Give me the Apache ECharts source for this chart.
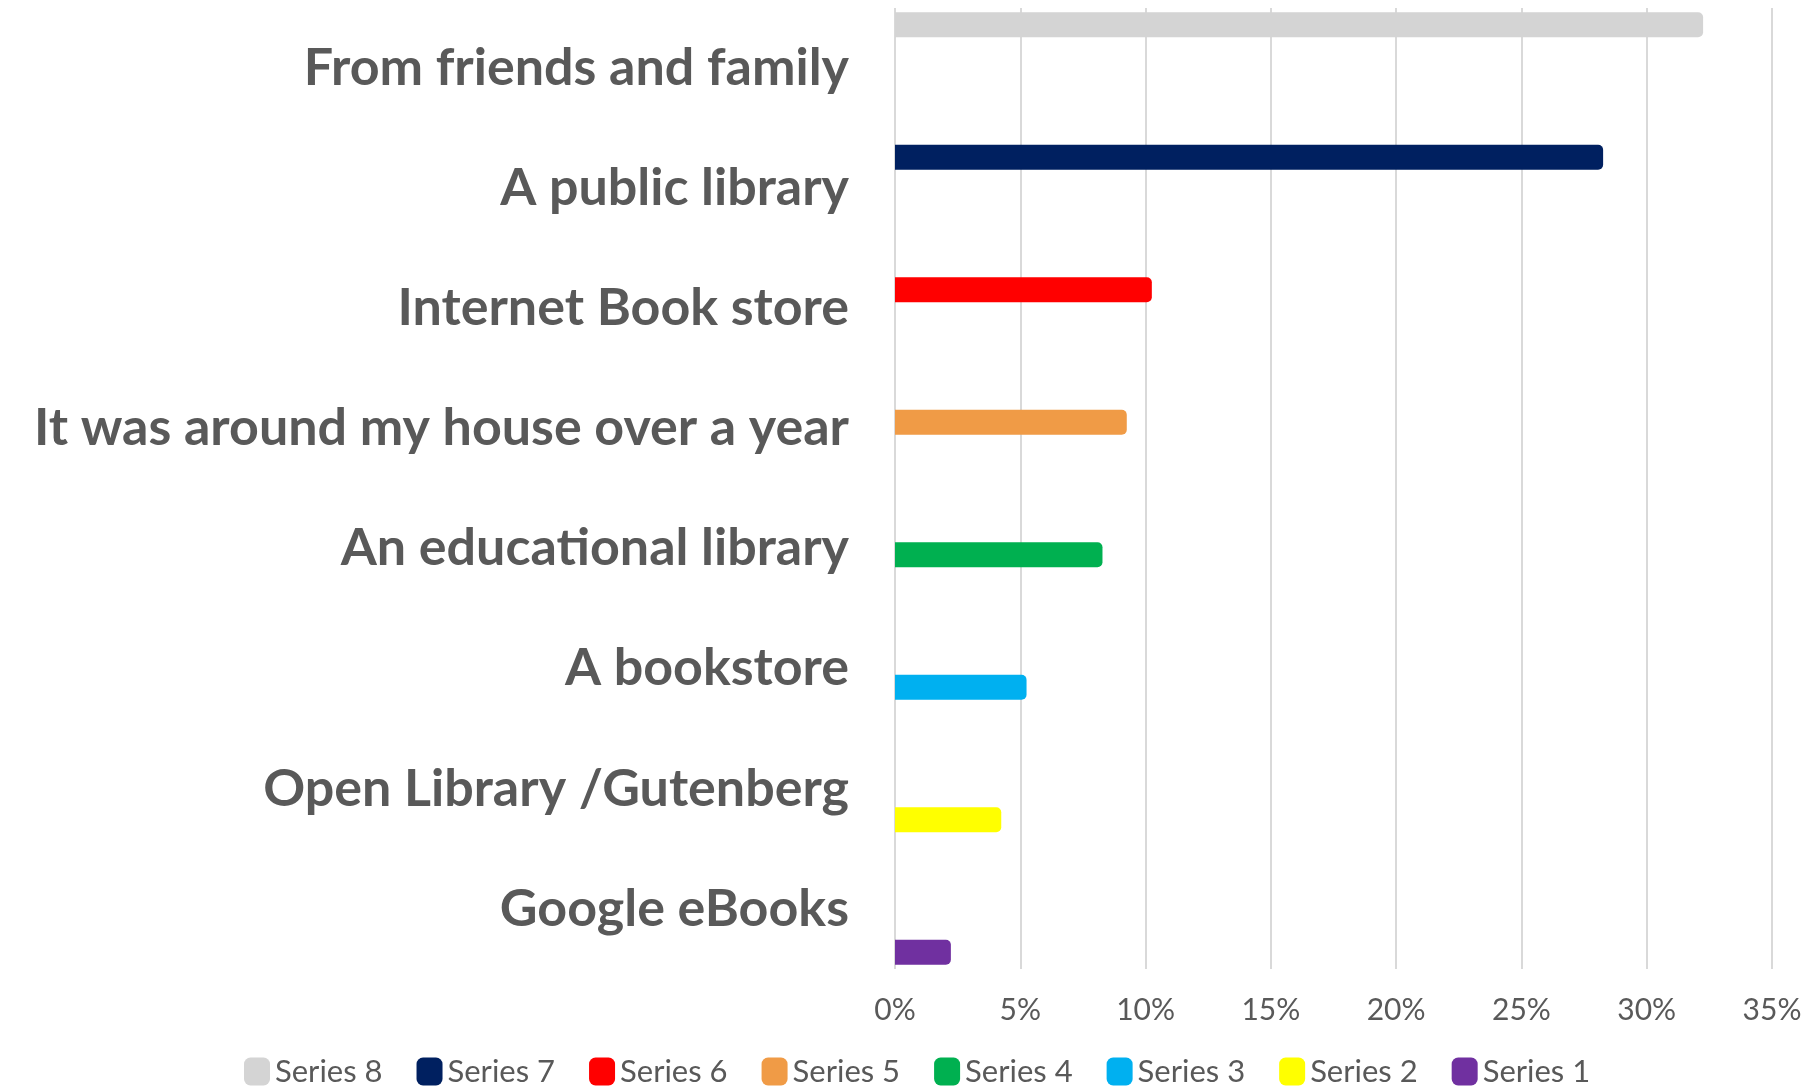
<!DOCTYPE html>
<html>
<head>
<meta charset="utf-8">
<title>Where did you get the book?</title>
<script src="https://cdn.jsdelivr.net/npm/echarts@6/dist/echarts.min.js"></script>
<style>
  html, body { margin: 0; padding: 0; background: #ffffff; }
  #chart { width: 1809px; height: 1089px; }
</style>
</head>
<body>
<div id="chart"></div>
<script>
// Categories listed bottom to top, as the category axis draws them
const categories = [
  'Google eBooks',
  'Open Library /Gutenberg',
  'A bookstore',
  'An educational library',
  'It was around my house over a year',
  'Internet Book store',
  'A public library',
  'From friends and family'
];
// Share of answers (%) for each category, same order
const values = [2.23, 4.24, 5.25, 8.28, 9.25, 10.25, 28.26, 32.25];
// One series per category, same order
const seriesNames = ['Series 1', 'Series 2', 'Series 3', 'Series 4', 'Series 5', 'Series 6', 'Series 7', 'Series 8'];
const seriesColors = ['#7030a0', '#ffff00', '#00b0f0', '#00b050', '#f09b46', '#ff0000', '#002060', '#d4d4d4'];
// Value axis ticks
const xTicks = { min: 0, max: 35, interval: 5 };

const textGray = '#595959';

// Series 8 first so it sits at the top of each band and leads the legend
const order = seriesNames.map((_, i) => i).reverse();

const series = order.map(i => ({
  name: seriesNames[i],
  type: 'bar',
  barWidth: 25,
  barGap: '-50.5%',
  itemStyle: { color: seriesColors[i], borderRadius: [0, 5, 5, 0] },
  data: categories.map((_, j) => (j === i ? values[j] : '-')),
  emphasis: { disabled: true }
}));

const chart = echarts.init(document.getElementById('chart'), null, { renderer: 'canvas' });
chart.setOption({
  animation: false,
  backgroundColor: '#ffffff',
  grid: { left: 895, right: 37, top: 8, bottom: 120, containLabel: false },
  xAxis: {
    type: 'value',
    min: xTicks.min,
    max: xTicks.max,
    interval: xTicks.interval,
    axisLine: { show: false },
    axisTick: { show: false },
    splitLine: { show: true, lineStyle: { color: '#d9d9d9', width: 2 } },
    axisLabel: {
      formatter: '{value}%',
      color: textGray,
      fontFamily: 'Lato',
      fontSize: 30,
      margin: 26
    }
  },
  yAxis: {
    type: 'category',
    data: categories,
    axisLine: { show: false },
    axisTick: { show: false },
    splitLine: { show: false },
    axisLabel: {
      color: textGray,
      fontFamily: 'Lato',
      fontWeight: 'bold',
      fontSize: 52,
      margin: 46
    }
  },
  legend: {
    data: order.map(i => seriesNames[i]),
    left: 244,
    top: 1056,
    padding: 0,
    icon: 'roundRect',
    itemWidth: 26,
    itemHeight: 28,
    itemGap: 34,
    textStyle: { color: textGray, fontFamily: 'Lato', fontSize: 31 },
    selectedMode: false
  },
  series: series
});
</script>
</body>
</html>
